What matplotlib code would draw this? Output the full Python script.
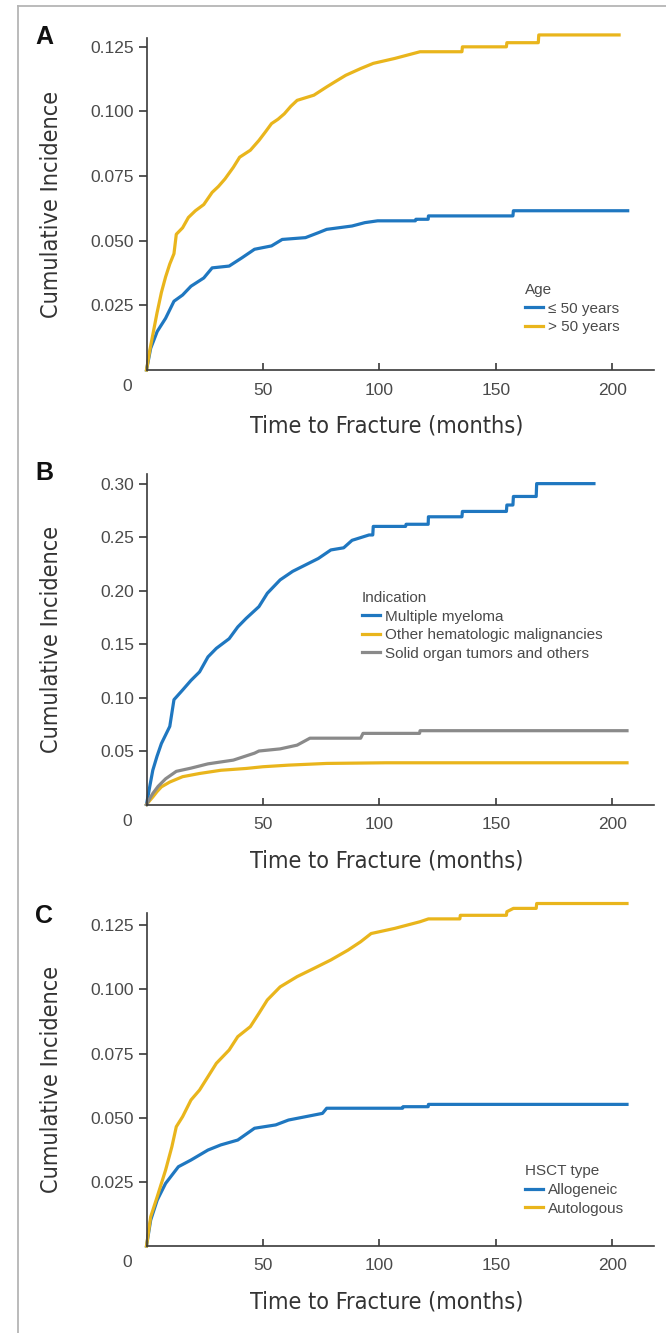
import matplotlib
matplotlib.use("Agg")
import matplotlib.pyplot as plt
from matplotlib.lines import Line2D
from matplotlib import font_manager as fm

# ---- data (months, cumulative incidence) ----
a_young_t = [0, 1.8, 4.6, 8.2, 11.8, 15.5, 19.1, 24.6, 28.2, 35.5, 41, 46.4, 53.7, 58.3,
             68.3, 73.8, 77.4, 88.3, 93.8, 99.3, 115.5, 115.7, 121.0, 121.1, 157.4,
             157.6, 206.7]
a_young_ci = [0, 0.0084, 0.0149, 0.020, 0.0266, 0.029, 0.0324, 0.0356, 0.0395, 0.0402,
              0.0434, 0.0467, 0.048, 0.0505, 0.0512, 0.0531, 0.0544, 0.0557, 0.057,
              0.0577, 0.0577, 0.0583, 0.0583, 0.0596, 0.0596, 0.0616, 0.0616]
a_old_t = [0, 1.5, 2.7, 4.5, 6.4, 8.2, 10, 11.8, 12.8, 15.5, 18, 21, 24.6, 28.2, 30.9, 33.7,
           37.3, 40, 44.6, 48.3, 51, 53.7, 56.5, 59.2, 62, 64.7, 71.9, 77.4, 81, 85.6, 92,
           97.4, 106.6, 117.5, 135.5, 135.7, 154.6, 154.8, 168.3, 168.5, 203]
a_old_ci = [0, 0.008, 0.0136, 0.022, 0.030, 0.036, 0.041, 0.045, 0.0525, 0.055, 0.059,
            0.0616, 0.064, 0.0687, 0.071, 0.0739, 0.0784, 0.0823, 0.085, 0.0888, 0.092,
            0.0953, 0.097, 0.0991, 0.102, 0.1043, 0.1063, 0.1095, 0.1115, 0.114, 0.1166,
            0.1186, 0.1205, 0.1231, 0.1231, 0.125, 0.125, 0.1266, 0.1266, 0.1296, 0.1296]

b_mm_t = [0, 1.5, 2.7, 4.5, 6.4, 8.2, 10, 11.8, 15.5, 19.1, 22.8, 26.4, 30, 35.5, 39.2,
          42.8, 48.3, 51.9, 57.4, 62.8, 68.3, 73.8, 79.2, 84.7, 88.3, 95.6, 97.2, 97.4,
          111.3, 111.5, 121.0, 121.1, 135.5, 135.7, 154.6, 154.8, 157.4, 157.6, 167.4,
          167.6, 192.2]
b_mm_ci = [0, 0.018, 0.032, 0.045, 0.057, 0.065, 0.073, 0.098, 0.107, 0.116, 0.124, 0.138,
           0.146, 0.155, 0.166, 0.174, 0.185, 0.1975, 0.210, 0.218, 0.224, 0.230, 0.238,
           0.240, 0.247, 0.252, 0.252, 0.260, 0.260, 0.262, 0.262, 0.269, 0.269, 0.274,
           0.274, 0.280, 0.280, 0.288, 0.288, 0.300, 0.300]
b_other_t = [0, 1.5, 2.7, 4.5, 6.4, 10, 15.5, 22.8, 31.9, 42.8, 50, 61, 77.4, 102.9, 206.4]
b_other_ci = [0, 0.004, 0.007, 0.012, 0.0165, 0.021, 0.026, 0.029, 0.032, 0.0337, 0.0353,
              0.0368, 0.0384, 0.039, 0.039]
b_solid_t = [0, 1.5, 2.7, 5, 8.2, 12.8, 19.1, 26.4, 37.3, 46.4, 48.3, 57.4, 64.7, 70.2, 92,
             93, 117.3, 117.5, 206.4]
b_solid_ci = [0, 0.006, 0.0103, 0.017, 0.024, 0.031, 0.034, 0.038, 0.0415, 0.048, 0.050,
              0.052, 0.0555, 0.062, 0.062, 0.0665, 0.0665, 0.069, 0.069]

c_allo_t = [0, 1.8, 4.6, 8.2, 13.7, 19.1, 26.4, 31.9, 39.2, 46.4, 55.5, 61, 68.3, 75.6,
            77.4, 110.0, 110.2, 121.0, 121.1, 206.4]
c_allo_ci = [0, 0.0101, 0.0179, 0.0244, 0.0309, 0.0335, 0.0374, 0.0394, 0.0413, 0.0459,
             0.0472, 0.0491, 0.0504, 0.0517, 0.0537, 0.0537, 0.0543, 0.0543, 0.0552, 0.0552]
c_auto_t = [0, 1.8, 4.6, 8.2, 10.9, 12.8, 15.5, 19.1, 22.8, 26.4, 30, 35.5, 39.2, 44.6,
            48.3, 51.9, 57.4, 64.7, 71.9, 79.2, 86.5, 92, 96.5, 106.6, 117.5, 121.1, 134.6,
            134.8, 154.6, 154.8, 157.6, 167.4, 167.6, 206.4]
c_auto_ci = [0, 0.0114, 0.0192, 0.0296, 0.0387, 0.0465, 0.0504, 0.0569, 0.0608, 0.066,
             0.0712, 0.0764, 0.0816, 0.0855, 0.0907, 0.0959, 0.101, 0.105, 0.1082, 0.1115,
             0.1153, 0.1186, 0.1218, 0.1238, 0.1264, 0.1275, 0.1275, 0.1289, 0.1289,
             0.1303, 0.1316, 0.1316, 0.1335, 0.1335]

x_ticks = [50, 100, 150, 200]
a_yticks = [0.025, 0.050, 0.075, 0.100, 0.125]
b_yticks = [0.05, 0.10, 0.15, 0.20, 0.25, 0.30]
c_yticks = [0.025, 0.050, 0.075, 0.100, 0.125]

BLUE = "#1f77c0"
GOLD = "#e9b51c"
GRAY = "#8a8a8a"
AXC = "#3a3a3a"
TXT = "#4a4a4a"

plt.rcParams["font.family"] = ["Liberation Sans", "DejaVu Sans"]

# condensed face for the axis titles, if one is installed
label_font = dict(family="DejaVu Sans", size=14)
for fam, stretch in [("Liberation Sans Narrow", "normal"), ("DejaVu Sans", "condensed")]:
    try:
        path = fm.findfont(fm.FontProperties(family=fam, stretch=stretch),
                           fallback_to_default=False)
    except Exception:
        continue
    if "narrow" in path.lower() or "condensed" in path.lower():
        label_font = dict(fname=path, size=16.8)
        break
label_fp = fm.FontProperties(**label_font)

fig = plt.figure(figsize=(6.66, 13.33), dpi=100)
W, H = 666, 1333


def panel(rect_px, ylim, yticks, yfmt, letter, letter_y):
    left, top, right, bottom = rect_px
    ax = fig.add_axes([left / W, 1 - bottom / H, (right - left) / W, (bottom - top) / H])
    ax.set_xlim(0, 218)
    ax.set_ylim(0, ylim)
    for s in ["top", "right"]:
        ax.spines[s].set_visible(False)
    for s in ["left", "bottom"]:
        ax.spines[s].set_color(AXC)
        ax.spines[s].set_linewidth(1.2)
    ax.set_xticks(x_ticks)
    ax.set_yticks(yticks)
    ax.set_yticklabels([yfmt % v for v in yticks])
    ax.tick_params(axis="x", direction="in", length=5, width=1.2, color=AXC, pad=9,
                   labelsize=12.5, labelcolor=TXT)
    ax.tick_params(axis="y", direction="out", length=6, width=1.2, color=AXC, pad=3,
                   labelsize=12.5, labelcolor=TXT)
    ax.annotate("0", xy=(0, 0), xytext=(-14, -12), textcoords="offset points",
                ha="center", va="center", fontsize=12.5, color=TXT)
    ax.set_ylabel("Cumulative Incidence", fontproperties=label_fp, color="#333333")
    ax.yaxis.set_label_coords(-95 / (right - left), 0.5)
    ax.yaxis.label.set_va("center")
    ax.set_xlabel("Time to Fracture (months)", fontproperties=label_fp, color="#333333")
    ax.xaxis.set_label_coords(0.473, -56 / (bottom - top))
    ax.xaxis.label.set_va("center")
    fig.text(44 / W, 1 - letter_y / H, letter, fontsize=18, fontweight="bold",
             ha="center", va="center", color="#111111")
    return ax


lw = 2.3
leg_kw = dict(frameon=False, fontsize=11, title_fontsize=11, handlelength=1.2,
              handletextpad=0.3, labelspacing=0.3, borderpad=0, borderaxespad=0,
              alignment="left", labelcolor=TXT)

# Panel A
ax = panel((146.5, 38.3, 654, 370), 0.1283, a_yticks, "%.3f", "A", 37)
ax.plot(a_young_t, a_young_ci, color=BLUE, lw=lw, clip_on=False, label="≤ 50 years")
ax.plot(a_old_t, a_old_ci, color=GOLD, lw=lw, clip_on=False, label="> 50 years")
lg = ax.legend(title="Age", loc="upper left", bbox_to_anchor=(0.745, 0.262), **leg_kw)
lg.get_title().set_color(TXT)

# Panel B
ax = panel((146.5, 474, 654, 804.5), 0.309, b_yticks, "%.2f", "B", 473)
ax.plot(b_mm_t, b_mm_ci, color=BLUE, lw=lw, clip_on=False, label="Multiple myeloma")
ax.plot(b_other_t, b_other_ci, color=GOLD, lw=lw, clip_on=False,
        label="Other hematologic malignancies")
ax.plot(b_solid_t, b_solid_ci, color=GRAY, lw=lw, clip_on=False,
        label="Solid organ tumors and others")
lg = ax.legend(title="Indication", loc="upper left", bbox_to_anchor=(0.424, 0.646), **leg_kw)
lg.get_title().set_color(TXT)

# Panel C
ax = panel((146.5, 913, 654, 1246), 0.1298, c_yticks, "%.3f", "C", 916)
ax.plot(c_allo_t, c_allo_ci, color=BLUE, lw=lw, clip_on=False, label="Allogeneic")
ax.plot(c_auto_t, c_auto_ci, color=GOLD, lw=lw, clip_on=False, label="Autologous")
lg = ax.legend(title="HSCT type", loc="upper left", bbox_to_anchor=(0.745, 0.245), **leg_kw)
lg.get_title().set_color(TXT)

# thin gray frame on the left and top of the figure
fig.add_artist(Line2D([18 / W, 18 / W], [0, 1 - 6 / H], color="#b5b5b5", lw=1.3))
fig.add_artist(Line2D([18 / W, 1], [1 - 6 / H, 1 - 6 / H], color="#b5b5b5", lw=1.3))

fig.savefig("out.png", dpi=100)
